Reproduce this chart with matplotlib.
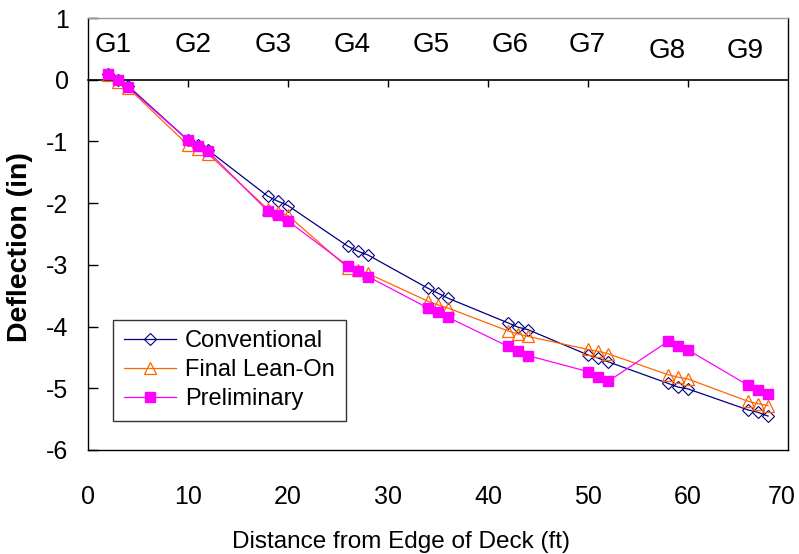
import matplotlib
matplotlib.use("Agg")
import matplotlib.pyplot as plt
from matplotlib.transforms import ScaledTranslation

plt.rcParams['font.family'] = ['Liberation Sans', 'DejaVu Sans']
plt.rcParams['axes.unicode_minus'] = False

distance = [2, 3, 4, 10, 11, 12, 18, 19, 20, 26, 27, 28, 34, 35, 36,
            42, 43, 44, 50, 51, 52, 58, 59, 60, 66, 67, 68]
conventional = [0.10, 0.00, -0.10, -0.98, -1.06, -1.14, -1.89, -1.97, -2.04,
                -2.70, -2.78, -2.84, -3.38, -3.46, -3.54, -3.94, -4.01, -4.05,
                -4.46, -4.51, -4.57, -4.92, -4.98, -5.01, -5.35, -5.39, -5.45]
final_lean_on = [0.07, -0.03, -0.13, -1.06, -1.13, -1.20, -2.10, -2.15, -2.20,
                 -3.05, -3.09, -3.14, -3.59, -3.65, -3.70, -4.07, -4.12, -4.16,
                 -4.37, -4.40, -4.44, -4.78, -4.82, -4.85, -5.21, -5.25, -5.28]
preliminary = [0.10, -0.01, -0.12, -0.98, -1.07, -1.16, -2.13, -2.20, -2.29,
               -3.02, -3.10, -3.19, -3.70, -3.77, -3.85, -4.32, -4.40, -4.47,
               -4.73, -4.82, -4.89, -4.24, -4.31, -4.38, -4.95, -5.02, -5.09]
girder_labels = ['G1', 'G2', 'G3', 'G4', 'G5', 'G6', 'G7', 'G8', 'G9']
girder_label_x = [2.5, 10.5, 18.5, 26.4, 34.3, 42.2, 49.9, 57.9, 65.7]
girder_label_y = [0.57, 0.57, 0.57, 0.57, 0.57, 0.57, 0.57, 0.46, 0.46]
x_ticks = [0, 10, 20, 30, 40, 50, 60, 70]
y_ticks = [1, 0, -1, -2, -3, -4, -5, -6]

fig = plt.figure(figsize=(7.99, 5.54), dpi=100)
ax = fig.add_axes([88/799, 1-450/554, 700/799, 432/554])

ax.plot(distance, conventional, color='#000080', lw=0.9, marker='D',
        ms=6, mfc='none', mec='#000080', mew=0.8, label='Conventional')
ax.plot(distance, final_lean_on, color='#FF6600', lw=0.9, marker='^',
        ms=8, mfc='none', mec='#FF6600', mew=0.9, label='Final Lean-On')
ax.plot(distance, preliminary, color='#FF00FF', lw=0.9, marker='s',
        ms=6.5, mfc='#FF00FF', mec='#FF00FF', label='Preliminary')

ax.set_xlim(0, 70)
ax.set_ylim(-6, 1)
ax.set_xticks(x_ticks)
ax.set_yticks(y_ticks)
ax.tick_params(axis='x', length=0, pad=25, labelsize=18)
ax.tick_params(axis='y', direction='in', length=7, width=1, pad=14, labelsize=18)

# keep the last x label inside the figure
fig.canvas.draw()
last = ax.get_xticklabels()[-1]
last.set_transform(last.get_transform() + ScaledTranslation(-6/100, 0, fig.dpi_scale_trans))

for s in ['left', 'bottom', 'right']:
    ax.spines[s].set_color('black')
    ax.spines[s].set_linewidth(1.0)
ax.spines['top'].set_color('#999999')
ax.spines['top'].set_linewidth(1.0)

# zero line with tick marks (category axis crossing at 0)
sec = ax.secondary_xaxis(6/7)
sec.set_xticks([10, 20, 30, 40, 50, 60])
sec.tick_params(axis='x', direction='out', length=5, width=1, labelbottom=False,
                labeltop=False, top=False, bottom=True)
sec.spines['bottom'].set_linewidth(1.2)
sec.spines['top'].set_visible(False)
sec.spines['bottom'].set_visible(True)
sec.spines['bottom'].set_position(('axes', 0))

for lab, gx, gy in zip(girder_labels, girder_label_x, girder_label_y):
    ax.text(gx, gy, lab, ha='center', va='center', fontsize=20)

ax.set_xlabel('Distance from Edge of Deck (ft)', fontsize=17.5)
ax.xaxis.set_label_coords(0.447, -0.188)
ax.set_ylabel('Deflection (in)', fontsize=20.5, fontweight='bold')
ax.yaxis.set_label_coords(-0.079, 0.47)

leg = ax.legend(loc='lower left', bbox_to_anchor=(0.036, 0.067), fontsize=17,
                frameon=True, fancybox=False, edgecolor='black', handlelength=2.2,
                borderpad=0.45, labelspacing=0.3, handletextpad=0.4,
                borderaxespad=0)
leg.get_frame().set_linewidth(1.0)

fig.savefig('out.png', dpi=100)
